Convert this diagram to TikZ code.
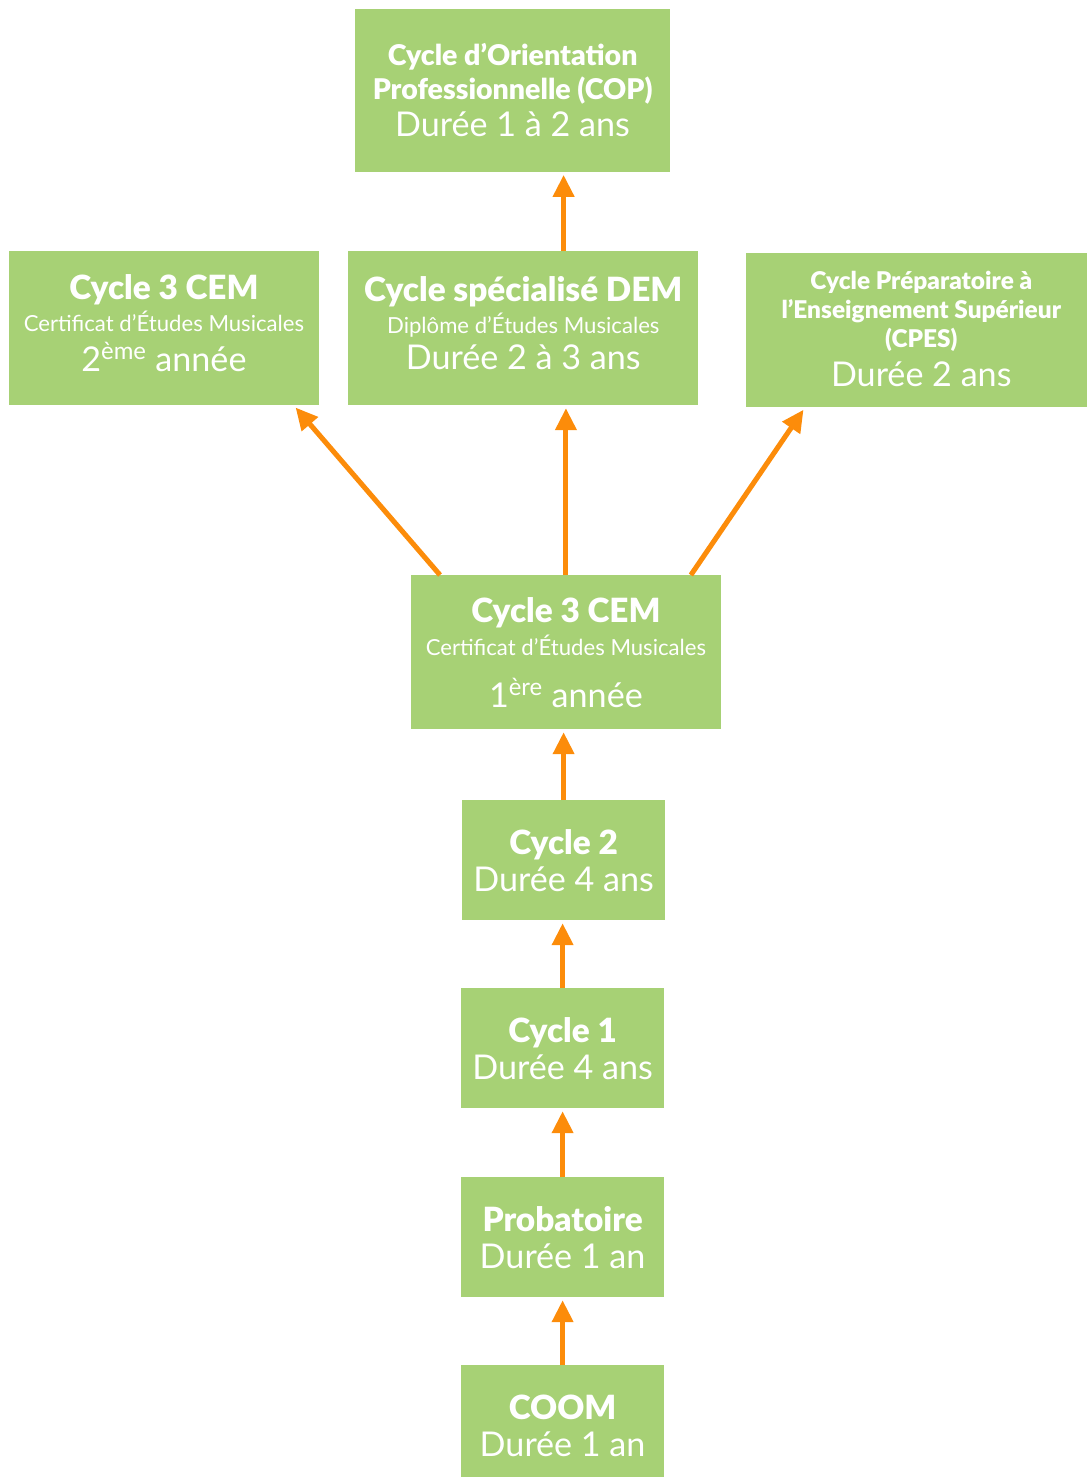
\documentclass[tikz,border=0pt]{standalone}
\usepackage{fontspec}
\setmainfont{Lato}[BoldFont={Lato Black}]
\usetikzlibrary{arrows.meta,calc}

\definecolor{stagegreen}{RGB}{167,209,117}
\definecolor{pathorange}{RGB}{252,140,10}

% each line carries a strut, so the gaps come from the baselineskips
\newcommand{\stagehead}{\bfseries\fontsize{25}{24.5}\selectfont\strut}
\newcommand{\stagesmall}{\bfseries\fontsize{21.4}{24.5}\selectfont\strut}
\newcommand{\stagetiny}{\bfseries\fontsize{18.3}{20.75}\selectfont\strut}
\newcommand{\stagesub}{\fontsize{16.6}{22.4}\selectfont\strut}
\newcommand{\stageinfo}{\fontsize{25.6}{27.7}\selectfont\strut}
\newcommand{\stagepad}[1]{\rule{0pt}{#1}}

\tikzset{
  stage/.style={fill=stagegreen,text=white,align=center,inner sep=0pt,anchor=north west},
  climb/.style={draw=pathorange,line width=3.8pt,-{Triangle[width=15.5pt,length=16.5pt]},shorten >=2pt}
}

\begin{document}
\begin{tikzpicture}[x=.75pt,y=-.75pt]
\path[use as bounding box] (0,0) rectangle (1086,1477);
% top row
\node[stage,minimum width=236pt,minimum height=122pt] (cop) at (355,9)
  {\stagesmall\stagepad{24.5pt}Cycle d’Orientation\\ \stagesmall Professionnelle (COP)\\ \stageinfo Durée 1 à 2 ans};
\node[stage,minimum width=232pt,minimum height=115.5pt] (cemtwo) at (9,251)
  {\stagehead Cycle 3 CEM\\ \stagesub Certificat d’Études Musicales\\ \stageinfo 2\textsuperscript{ème} année};
\node[stage,minimum width=262.5pt,minimum height=115.5pt] (dem) at (348,251)
  {\stagehead Cycle spécialisé DEM\\ \stagesub Diplôme d’Études Musicales\\ \stageinfo Durée 2 à 3 ans};
\node[stage,minimum width=262.5pt,minimum height=115.5pt] (cpes) at (746,253)
  {\stagetiny\stagepad{19.8pt}Cycle Préparatoire à\\ \stagetiny l’Enseignement Supérieur\\ \stagetiny (CPES)\\[2pt] \stageinfo Durée 2 ans};
% middle
\node[stage,minimum width=232pt,minimum height=115.5pt] (cemone) at (411,575)
  {\stagehead\stagepad{27.6pt}Cycle 3 CEM\\ \stagesub Certificat d’Études Musicales\\[9.5pt] \stageinfo 1\textsuperscript{ère} année};
% bottom column
\node[stage,minimum width=152pt,minimum height=90pt] (cycletwo) at (462,800)
  {\stagehead\stagepad{27.6pt}Cycle 2\\ \stageinfo Durée 4 ans};
\node[stage,minimum width=152pt,minimum height=90pt] (cycleone) at (461,988)
  {\stagehead\stagepad{27.6pt}Cycle 1\\ \stageinfo Durée 4 ans};
\node[stage,minimum width=152pt,minimum height=90pt] (proba) at (461,1177)
  {\stagehead\stagepad{27.6pt}Probatoire\\ \stageinfo Durée 1 an};
\node[stage,minimum width=152pt,minimum height=90pt] (coom) at (461,1365)
  {\stagehead\stagepad{27.6pt}COOM\\ \stageinfo Durée 1 an};

\draw[climb] (coom.north) -- (coom.north |- proba.south);
\draw[climb] (proba.north) -- (proba.north |- cycleone.south);
\draw[climb] (cycleone.north) -- (cycleone.north |- cycletwo.south);
\draw[climb] (cycletwo.north) -- (cycletwo.north |- cemone.south);
\draw[climb] (cemone.north) -- (cemone.north |- dem.south);
\draw[climb] ($(cemone.north west)+(29,0)$) -- ($(cemtwo.south east)+(-25,0)$);
\draw[climb] ($(cemone.north east)+(-30,0)$) -- ($(cpes.south west)+(59,0)$);
\draw[climb] (cycletwo.north |- dem.north) -- (cycletwo.north |- cop.south);
\end{tikzpicture}
\end{document}
